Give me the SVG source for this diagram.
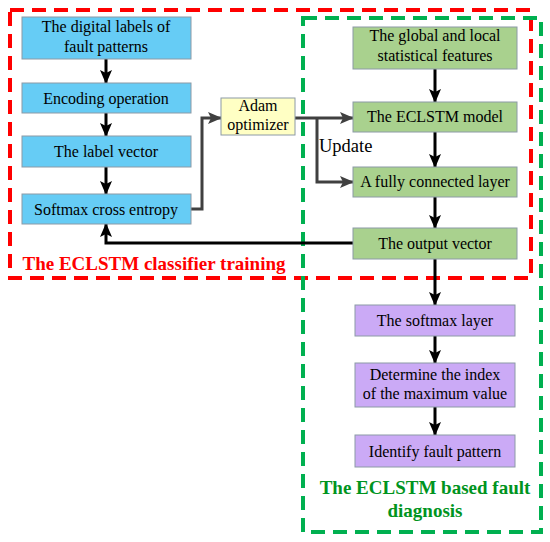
<svg xmlns="http://www.w3.org/2000/svg" width="550" height="542" viewBox="0 0 550 542">
<defs>
<style>
.box{stroke:#8c9aa6;stroke-width:1}
.blue{fill:#66ccf5}
.green{fill:#a9d18e}
.purple{fill:#cbaaf6}
.yellow{fill:#ffffc4}
.t{font-family:'Liberation Serif','Times New Roman',serif;font-size:16px;fill:#000;text-anchor:middle}
.blk{fill:none;stroke:#000;stroke-width:3}
.gry{fill:none;stroke:#404040;stroke-width:3}
.lbl{font-family:'Liberation Serif','Times New Roman',serif;font-size:19px;font-weight:bold;text-anchor:middle}
.upd{font-family:'Liberation Serif','Times New Roman',serif;font-size:18.5px;fill:#000}
</style>
<marker id="ab" markerUnits="userSpaceOnUse" markerWidth="14" markerHeight="14" viewBox="0 0 14 14" refX="13" refY="7" orient="auto">
<path d="M0,1 L14,7 L0,13 L3,7 Z" fill="#000"/>
</marker>
<marker id="ag" markerUnits="userSpaceOnUse" markerWidth="14" markerHeight="14" viewBox="0 0 14 14" refX="13" refY="7" orient="auto">
<path d="M0,1 L14,7 L0,13 L3,7 Z" fill="#404040"/>
</marker>
</defs>
<rect width="550" height="542" fill="#fff"/>

<g id="region-training">
<rect x="10" y="10" width="521" height="268" fill="none" stroke="#ff0000" stroke-width="4" stroke-dasharray="14 8"/>
<text class="lbl" x="154" y="270" fill="#ff0000">The ECLSTM classifier training</text>
</g>
<g id="region-diagnosis">
<rect x="303" y="18" width="238" height="514" fill="none" stroke="#00b050" stroke-width="4" stroke-dasharray="14 8"/>
<text class="lbl" x="425" y="494" fill="#00941e">The ECLSTM based fault</text>
<text class="lbl" x="425" y="517" fill="#00941e">diagnosis</text>
</g>

<g id="connectors">
<line class="blk" x1="106" y1="59" x2="106" y2="83" marker-end="url(#ab)"/>
<line class="blk" x1="106" y1="113" x2="106" y2="136" marker-end="url(#ab)"/>
<line class="blk" x1="106" y1="167" x2="106" y2="194" marker-end="url(#ab)"/>
<path class="gry" d="M191,209 H202 V118 H221" marker-end="url(#ag)"/>
<path class="gry" d="M295,118 H353" marker-end="url(#ag)"/>
<path class="gry" d="M317,118 V182 H353" marker-end="url(#ag)"/>
<line class="blk" x1="435" y1="69" x2="435" y2="102" marker-end="url(#ab)"/>
<line class="blk" x1="435" y1="132" x2="435" y2="167" marker-end="url(#ab)"/>
<line class="blk" x1="435" y1="197" x2="435" y2="228" marker-end="url(#ab)"/>
<line class="blk" x1="435" y1="259" x2="435" y2="305" marker-end="url(#ab)"/>
<line class="blk" x1="435" y1="336" x2="435" y2="363" marker-end="url(#ab)"/>
<line class="blk" x1="435" y1="407" x2="435" y2="435" marker-end="url(#ab)"/>
<path class="blk" d="M353,243 H106 V224" marker-end="url(#ab)"/>
<text class="upd" x="319" y="152">Update</text>
</g>

<g id="n-digital-labels">
<rect class="box blue" x="22" y="17" width="169" height="42"/>
<text class="t" x="106" y="32">The digital labels of</text>
<text class="t" x="106" y="52">fault patterns</text>
</g>
<g id="n-encoding">
<rect class="box blue" x="22" y="83" width="169" height="30"/>
<text class="t" x="106" y="104">Encoding operation</text>
</g>
<g id="n-label-vector">
<rect class="box blue" x="22" y="136" width="169" height="31"/>
<text class="t" x="106" y="157">The label vector</text>
</g>
<g id="n-softmax-ce">
<rect class="box blue" x="22" y="194" width="169" height="30"/>
<text class="t" x="106" y="215">Softmax cross entropy</text>
</g>
<g id="n-adam">
<rect class="box yellow" x="221" y="98" width="74" height="37"/>
<text class="t" x="258" y="111">Adam</text>
<text class="t" x="258" y="130">optimizer</text>
</g>
<g id="n-features">
<rect class="box green" x="353" y="27" width="164" height="42"/>
<text class="t" x="435" y="41">The global and local</text>
<text class="t" x="435" y="61">statistical features</text>
</g>
<g id="n-eclstm">
<rect class="box green" x="353" y="102" width="164" height="30"/>
<text class="t" x="435" y="122">The ECLSTM model</text>
</g>
<g id="n-fc">
<rect class="box green" x="353" y="167" width="164" height="30"/>
<text class="t" x="435" y="187">A fully connected layer</text>
</g>
<g id="n-output">
<rect class="box green" x="353" y="228" width="164" height="31"/>
<text class="t" x="435" y="249">The output vector</text>
</g>
<g id="n-softmax-layer">
<rect class="box purple" x="355" y="305" width="160" height="31"/>
<text class="t" x="435" y="326">The softmax layer</text>
</g>
<g id="n-argmax">
<rect class="box purple" x="355" y="363" width="160" height="44"/>
<text class="t" x="435" y="380">Determine the index</text>
<text class="t" x="435" y="399">of the maximum value</text>
</g>
<g id="n-identify">
<rect class="box purple" x="355" y="435" width="160" height="32"/>
<text class="t" x="435" y="457">Identify fault pattern</text>
</g>
</svg>
